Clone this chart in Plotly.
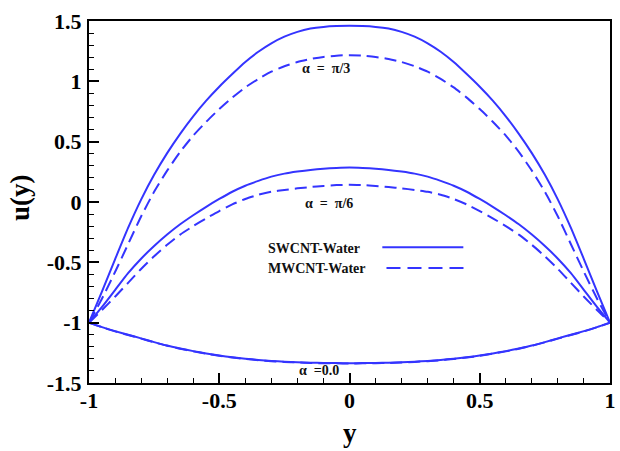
import plotly.graph_objects as go

# Transverse coordinate (denser near the walls)
y_pos = [-1.0, -0.95, -0.9, -0.85, -0.8, -0.75, -0.7, -0.65, -0.6, -0.55, -0.5, -0.45,
         -0.4, -0.35, -0.3, -0.25, -0.2, -0.15, -0.1, -0.05, 0.0,
         0.05, 0.1, 0.15, 0.2, 0.25, 0.3, 0.35, 0.4, 0.45, 0.5, 0.55, 0.6, 0.65,
         0.7, 0.75, 0.8, 0.85, 0.9, 0.95, 1.0]

# Velocity profiles, SWCNT-Water (solid)
sw_pi3 = [-1.0, -0.74, -0.475, -0.215, 0.02, 0.225, 0.405, 0.565, 0.71, 0.84, 0.955, 1.06,
          1.16, 1.245, 1.315, 1.37, 1.41, 1.437, 1.451, 1.458, 1.46,
          1.458, 1.451, 1.437, 1.41, 1.37, 1.315, 1.245, 1.16, 1.06, 0.955, 0.84, 0.71, 0.565,
          0.405, 0.225, 0.02, -0.215, -0.475, -0.74, -1.0]
sw_pi6 = [-1.0, -0.87, -0.73, -0.59, -0.47, -0.365, -0.27, -0.185, -0.11, -0.04, 0.025, 0.085,
          0.135, 0.175, 0.21, 0.235, 0.252, 0.266, 0.276, 0.282, 0.285,
          0.282, 0.276, 0.266, 0.252, 0.235, 0.21, 0.175, 0.135, 0.085, 0.025, -0.04, -0.11, -0.185,
          -0.27, -0.365, -0.47, -0.59, -0.73, -0.87, -1.0]
sw_a0 = [-1.0, -1.037, -1.07, -1.10, -1.13, -1.161, -1.19, -1.214, -1.236, -1.255, -1.272, -1.287,
         -1.299, -1.309, -1.317, -1.323, -1.328, -1.332, -1.334, -1.335, -1.336,
         -1.335, -1.334, -1.332, -1.328, -1.323, -1.317, -1.309, -1.299, -1.287, -1.272, -1.255, -1.236, -1.214,
         -1.19, -1.161, -1.13, -1.10, -1.07, -1.037, -1.0]

# Velocity profiles, MWCNT-Water (dashed)
mw_pi3 = [-1.0, -0.80, -0.58, -0.35, -0.12, 0.085, 0.26, 0.415, 0.55, 0.665, 0.77, 0.865,
          0.95, 1.02, 1.08, 1.125, 1.16, 1.185, 1.202, 1.213, 1.217,
          1.213, 1.202, 1.185, 1.16, 1.125, 1.08, 1.02, 0.95, 0.865, 0.77, 0.665, 0.55, 0.415,
          0.26, 0.085, -0.12, -0.35, -0.58, -0.80, -1.0]
mw_pi6 = [-1.0, -0.895, -0.785, -0.67, -0.555, -0.45, -0.355, -0.27, -0.20, -0.135, -0.075, -0.02,
          0.025, 0.06, 0.085, 0.10, 0.113, 0.124, 0.133, 0.14, 0.143,
          0.14, 0.133, 0.124, 0.113, 0.10, 0.085, 0.06, 0.025, -0.02, -0.075, -0.135, -0.20, -0.27,
          -0.355, -0.45, -0.555, -0.67, -0.785, -0.895, -1.0]
mw_a0 = [-1.0, -1.038, -1.072, -1.102, -1.132, -1.163, -1.192, -1.216, -1.238, -1.257, -1.274, -1.289,
         -1.301, -1.311, -1.319, -1.325, -1.330, -1.334, -1.336, -1.337, -1.338,
         -1.337, -1.336, -1.334, -1.330, -1.325, -1.319, -1.311, -1.301, -1.289, -1.274, -1.257, -1.238, -1.216,
         -1.192, -1.163, -1.132, -1.102, -1.072, -1.038, -1.0]

curve_labels = ["\u03b1  =  \u03c0/3", "\u03b1  =  \u03c0/6", "\u03b1  =0.0"]
label_x = [-0.09, -0.08, -0.117]
label_u = [1.11, -0.01, -1.40]

series_names = ["SWCNT-Water", "MWCNT-Water"]

BLUE = "#3434ff"
SERIF = "Liberation Serif"

fig = go.Figure()
for vals in (sw_pi3, sw_pi6, sw_a0):
    fig.add_trace(go.Scatter(x=y_pos, y=vals, mode="lines",
                             line=dict(color=BLUE, width=2, shape="spline", smoothing=0.6),
                             showlegend=False, hoverinfo="skip"))
for vals in (mw_pi3, mw_pi6, mw_a0):
    fig.add_trace(go.Scatter(x=y_pos, y=vals, mode="lines",
                             line=dict(color=BLUE, width=2, dash="12px,6px",
                                       shape="spline", smoothing=0.6),
                             showlegend=False, hoverinfo="skip"))

# Curve labels
for txt, lx, lu in zip(curve_labels, label_x, label_u):
    fig.add_annotation(x=lx, y=lu, text=txt, showarrow=False,
                       font=dict(family=SERIF, size=14, color="#111", weight="bold"),
                       xanchor="center", yanchor="middle")

# Legend block: names on the left, line samples on the right
legend_rows = [0.372, 0.315]
sample_styles = [dict(color=BLUE, width=2), dict(color=BLUE, width=2, dash="14px,7px")]
sample_x = [(0.563, 0.7185), (0.571, 0.7205)]
for name, ry, st, (sx0, sx1) in zip(series_names, legend_rows, sample_styles, sample_x):
    fig.add_annotation(xref="paper", yref="paper", x=0.339, y=ry,
                       text=name, showarrow=False,
                       font=dict(family=SERIF, size=14, color="#111", weight="bold"),
                       xanchor="left", yanchor="middle")
    fig.add_shape(type="line", xref="paper", yref="paper",
                  x0=sx0, x1=sx1, y0=ry + 0.003, y1=ry + 0.003, line=st)

# Axis titles
fig.add_annotation(xref="paper", yref="paper", x=0.5, y=-0.139, text="y",
                   showarrow=False, font=dict(family=SERIF, size=27, color="black", weight="bold"),
                   xanchor="center", yanchor="middle")
fig.add_annotation(xref="paper", yref="paper", x=-0.131, y=0.513, text="u(y)",
                   showarrow=False, textangle=-90,
                   font=dict(family=SERIF, size=27, color="black", weight="bold"),
                   xanchor="center", yanchor="middle")

axis_common = dict(
    showgrid=False, zeroline=False,
    showline=True, linecolor="black", linewidth=2, mirror=True,
    ticks="inside", ticklen=10, tickwidth=2, tickcolor="black",
    tickfont=dict(family=SERIF, size=22, color="black", weight="bold"),
    minor=dict(ticks="inside", ticklen=5, tickwidth=1, tickcolor="black", dtick=0.1),
)

fig.update_xaxes(range=[-1, 1], tickvals=[-1, -0.5, 0, 0.5, 1],
                 ticktext=["-1", "-0.5", "0", "0.5", "1"],
                 ticklabelstandoff=-3, **axis_common)
fig.update_yaxes(range=[-1.5, 1.5], tickvals=[-1.5, -1, -0.5, 0, 0.5, 1, 1.5],
                 ticktext=["-1.5", "-1", "-0.5", "0", "0.5", "1", "1.5"],
                 ticklabelstandoff=1, **axis_common)

fig.update_layout(width=620, height=451,
                  margin=dict(l=89, r=4, t=21, b=68),
                  plot_bgcolor="white", paper_bgcolor="white",
                  showlegend=False)

fig.write_html("out.html")
